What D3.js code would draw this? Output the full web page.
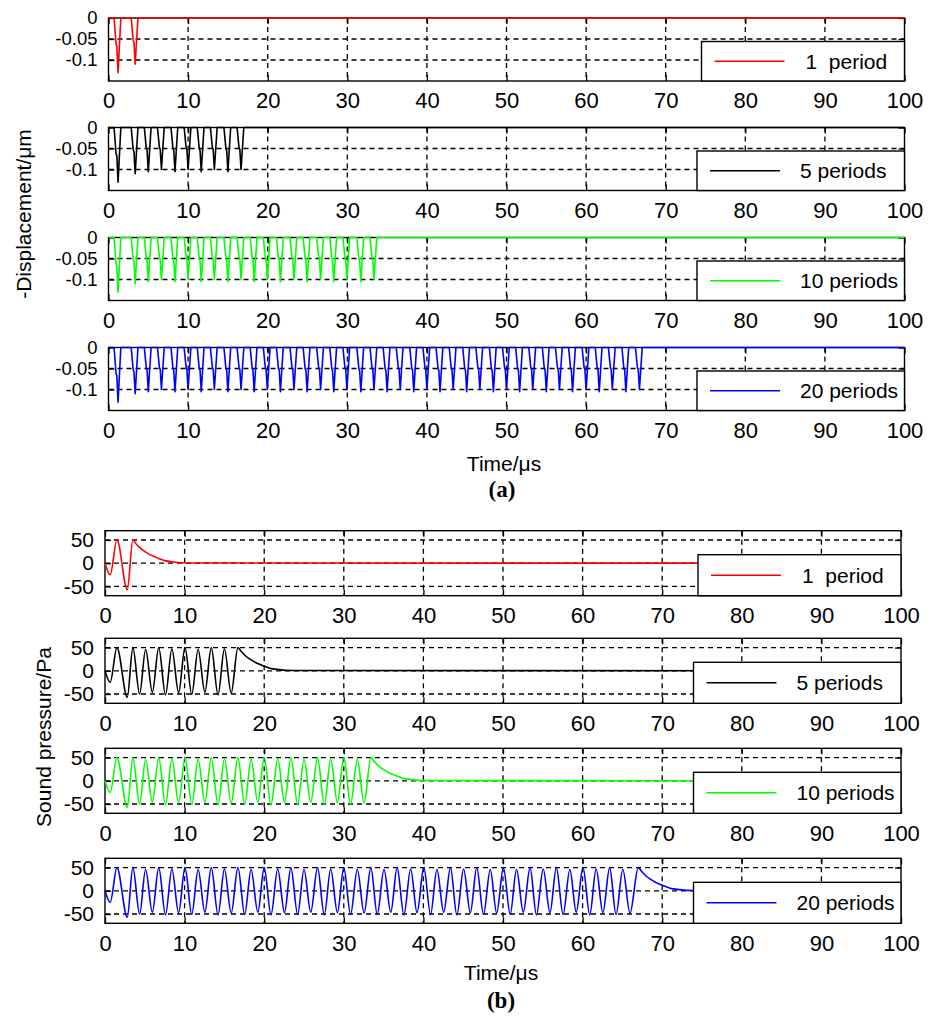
<!DOCTYPE html>
<html>
<head>
<meta charset="utf-8">
<script src="https://cdn.jsdelivr.net/npm/d3@7"></script>
<style>
  html, body { margin: 0; padding: 0; background: #fff; }
  svg { display: block; }
  text { font-family: "Liberation Sans", Arial, Helvetica, sans-serif; fill: #000; }
</style>
</head>
<body>
<svg id="fig" width="935" height="1019"></svg>
<script>
// ---- data ----------------------------------------------------------------
const timeTicks = [0, 10, 20, 30, 40, 50, 60, 70, 80, 90, 100];
const dispTicks = [0, -0.05, -0.1];
const dispTickLabels = ["0", "-0.05", "-0.1"];
const presTicks = [50, 0, -50];
const presTickLabels = ["50", "0", "-50"];

const periodCounts = [1, 5, 10, 20];
const seriesNames = ["1  period", "5 periods", "10 periods", "20 periods"];
const seriesColors = ["#ff0000", "#000000", "#00ff00", "#0000ff"];

// displacement: times (µs) and depths (µm) of the negative spikes, two per period
const spikeTimes = [1.2, 3.35, 5.0, 6.65, 8.35, 10.0, 11.65, 13.3, 15.0, 16.65,
  18.3, 19.95, 21.6, 23.3, 24.95, 26.65, 28.3, 29.95, 31.7, 33.35,
  35.0, 36.65, 38.35, 40.0, 41.65, 43.3, 45.0, 46.65, 48.35, 50.0,
  51.65, 53.3, 55.0, 56.65, 58.3, 60.0, 61.65, 63.3, 65.0, 66.7];
const spikeDepths = [-0.13, -0.11, -0.105, -0.1, -0.105, -0.1, -0.105, -0.1, -0.105, -0.1,
  -0.105, -0.1, -0.105, -0.1, -0.105, -0.1, -0.105, -0.1, -0.105, -0.1,
  -0.105, -0.1, -0.105, -0.1, -0.105, -0.1, -0.105, -0.1, -0.105, -0.1,
  -0.105, -0.1, -0.105, -0.1, -0.105, -0.1, -0.105, -0.1, -0.105, -0.1];

// sound pressure: trough / peak times (µs) and values (Pa), two cycles per period
const troughTimes = [0.65, 2.8, 4.35, 5.95, 7.6, 9.25, 10.9, 12.55, 14.2, 15.85,
  17.55, 19.2, 20.85, 22.55, 24.2, 25.85, 27.55, 29.2, 30.85, 32.55,
  34.2, 35.9, 37.55, 39.2, 40.9, 42.55, 44.2, 45.9, 47.55, 49.2,
  50.9, 52.55, 54.2, 55.9, 57.55, 59.2, 60.9, 62.55, 64.2, 65.95];
const troughValues = [-25, -57, -50, -46, -52, -47, -51, -46, -52, -48,
  -51, -46, -52, -47, -51, -46, -52, -47, -51, -48,
  -51, -46, -52, -47, -51, -46, -52, -47, -51, -48,
  -51, -46, -52, -47, -51, -46, -52, -47, -51, -48];
const peakTimes = [1.5, 3.5, 5.1, 6.75, 8.4, 10.05, 11.7, 13.35, 15.0, 16.7,
  18.35, 20.0, 21.7, 23.35, 25.0, 26.7, 28.35, 30.0, 31.7, 33.4,
  35.05, 36.7, 38.4, 40.05, 41.7, 43.4, 45.05, 46.7, 48.4, 50.05,
  51.7, 53.4, 55.05, 56.7, 58.4, 60.05, 61.7, 63.4, 65.05, 67.0];
const peakValues = [50, 50, 46, 50, 47, 50, 46, 50, 47, 50,
  46, 50, 47, 50, 46, 50, 47, 50, 46, 50,
  46, 50, 47, 50, 46, 50, 47, 50, 46, 50,
  46, 50, 47, 50, 46, 50, 47, 50, 46, 50];
// relaxation after the last peak: time offsets (µs) and pressure (Pa)
const decayDt = [0.4, 0.9, 1.5, 2.2, 3.0, 4.0, 5.2, 6.8];
const decayValues = [42, 33, 25, 18, 12, 5.5, 2.5, 0.5];

// ---- layout --------------------------------------------------------------
const svg = d3.select("#fig");
const FONT = 22;

const groupA = { x0: 108.5, x1: 904.5, tops: [18, 127.5, 237.5, 347.5], h: 63,
  domain: [-0.15, 0], ticks: dispTicks, labels: dispTickLabels, legendTop: 23.5, yFont: 18.5 };
const groupB = { x0: 105, x1: 901, tops: [530.7, 638.3, 748.3, 858.3], h: 65,
  domain: [-70, 70], ticks: presTicks, labels: presTickLabels, legendTop: 24, yFont: 21 };

function displacementPoints(n) {
  const pts = [[0, 0]];
  for (let i = 0; i < 2 * n; i++) {
    const t = spikeTimes[i], d = spikeDepths[i];
    pts.push([t - 0.5, 0], [t - 0.25, d * 0.48], [t - 0.15, d * 0.52], [t, d], [t + 0.35, 0]);
  }
  pts.push([100, 0]);
  return pts;
}

function pressurePoints(n) {
  const pts = [[0, 0]];
  for (let i = 0; i < 2 * n; i++) {
    pts.push([troughTimes[i], troughValues[i]], [peakTimes[i], peakValues[i]]);
  }
  const tLast = peakTimes[2 * n - 1];
  decayDt.forEach((dt, j) => pts.push([tLast + dt, decayValues[j]]));
  pts.push([100, 0]);
  return pts;
}

function styleTicks(sel) {
  sel.select(".domain").remove();
  sel.selectAll("line").attr("stroke", "#000").attr("stroke-width", 1.3);
}

function drawPanel(g, idx, kind) {
  const top = g.tops[idx], bottom = top + g.h;
  const x = d3.scaleLinear().domain([0, 100]).range([g.x0, g.x1]);
  const y = d3.scaleLinear().domain(g.domain).range([bottom, top]);
  const panel = svg.append("g");

  // dashed grid
  panel.append("g").selectAll("line")
    .data(timeTicks.filter(t => t > 0 && t < 100)).join("line")
    .attr("x1", d => x(d)).attr("x2", d => x(d))
    .attr("y1", top).attr("y2", bottom)
    .attr("stroke", "#000").attr("stroke-width", 1.3).attr("stroke-dasharray", "5,4");
  panel.append("g").selectAll("line")
    .data(g.ticks.filter(v => y(v) > top + 1 && y(v) < bottom - 1)).join("line")
    .attr("x1", g.x0).attr("x2", g.x1)
    .attr("y1", d => y(d)).attr("y2", d => y(d))
    .attr("stroke", "#000").attr("stroke-width", 1.3).attr("stroke-dasharray", "5,4");

  // axes box
  panel.append("rect")
    .attr("x", g.x0).attr("y", top).attr("width", g.x1 - g.x0).attr("height", g.h)
    .attr("fill", "none").attr("stroke", "#000").attr("stroke-width", 1.4);

  // bottom axis with inward ticks
  const ax = panel.append("g").attr("transform", `translate(0,${bottom})`)
    .call(d3.axisBottom(x).tickValues(timeTicks).tickFormat(d3.format("d"))
      .tickSizeInner(-6).tickSizeOuter(0).tickPadding(12));
  styleTicks(ax);
  ax.selectAll("text").attr("font-size", FONT).attr("font-family", "Liberation Sans, Arial, sans-serif")
    .attr("dy", "0.7em");
  // top ticks
  const at = panel.append("g").attr("transform", `translate(0,${top})`)
    .call(d3.axisTop(x).tickValues(timeTicks).tickSizeInner(-6).tickSizeOuter(0).tickFormat(""));
  styleTicks(at);

  // left axis
  const ay = panel.append("g").attr("transform", `translate(${g.x0},0)`)
    .call(d3.axisLeft(y).tickValues(g.ticks).tickFormat((d, i) => g.labels[i])
      .tickSizeInner(-6).tickSizeOuter(0).tickPadding(11));
  styleTicks(ay);
  ay.selectAll("text").attr("font-size", g.yFont).attr("font-family", "Liberation Sans, Arial, sans-serif");
  const ayr = panel.append("g").attr("transform", `translate(${g.x1},0)`)
    .call(d3.axisRight(y).tickValues(g.ticks).tickSizeInner(-6).tickSizeOuter(0).tickFormat(""));
  styleTicks(ayr);

  // data line, drawn over the axes box
  const n = periodCounts[idx];
  const pts = kind === "disp" ? displacementPoints(n) : pressurePoints(n);
  const line = d3.line()
    .x(d => x(d[0])).y(d => y(d[1]))
    .curve(kind === "disp" ? d3.curveLinear : d3.curveMonotoneX);
  panel.append("path").datum(pts)
    .attr("d", line)
    .attr("fill", "none")
    .attr("stroke", seriesColors[idx])
    .attr("stroke-width", 1.6)
    .attr("stroke-linejoin", "round");

  // legend
  const lw = idx === 0 ? 203 : 207.5;
  const lx = g.x1 - lw, ly = top + g.legendTop;
  const leg = panel.append("g");
  leg.append("rect").attr("x", lx).attr("y", ly).attr("width", lw).attr("height", bottom - ly)
    .attr("fill", "#fff").attr("stroke", "#000").attr("stroke-width", 1.4);
  const my = (ly + bottom) / 2;
  leg.append("line").attr("x1", lx + 13).attr("x2", lx + 83).attr("y1", my).attr("y2", my)
    .attr("stroke", seriesColors[idx]).attr("stroke-width", 1.5);
  leg.append("text").attr("x", lx + (idx === 0 ? 104 : 103)).attr("y", my)
    .attr("dy", "0.36em").attr("font-size", 21).style("white-space", "pre")
    .text(seriesNames[idx]);
}

[0, 1, 2, 3].forEach(i => drawPanel(groupA, i, "disp"));
[0, 1, 2, 3].forEach(i => drawPanel(groupB, i, "pres"));

// axis titles and captions
svg.append("text").attr("transform", "translate(23,214) rotate(-90)")
  .attr("text-anchor", "middle").attr("dy", "0.36em").attr("font-size", 21)
  .text("-Displacement/\u03bcm");
svg.append("text").attr("transform", "translate(43,737) rotate(-90)")
  .attr("text-anchor", "middle").attr("dy", "0.36em").attr("font-size", 21)
  .text("Sound pressure/Pa");

svg.append("text").attr("x", 504).attr("y", 463).attr("dy", "0.36em")
  .attr("text-anchor", "middle").attr("font-size", 21).text("Time/\u03bcs");
svg.append("text").attr("x", 502).attr("y", 489).attr("dy", "0.36em")
  .attr("text-anchor", "middle").attr("font-size", 23).attr("font-weight", "bold")
  .style("font-family", "Liberation Serif, Times New Roman, serif").text("(a)");

svg.append("text").attr("x", 501).attr("y", 972).attr("dy", "0.36em")
  .attr("text-anchor", "middle").attr("font-size", 21).text("Time/\u03bcs");
svg.append("text").attr("x", 501).attr("y", 1000).attr("dy", "0.36em")
  .attr("text-anchor", "middle").attr("font-size", 23).attr("font-weight", "bold")
  .style("font-family", "Liberation Serif, Times New Roman, serif").text("(b)");
</script>
</body>
</html>
